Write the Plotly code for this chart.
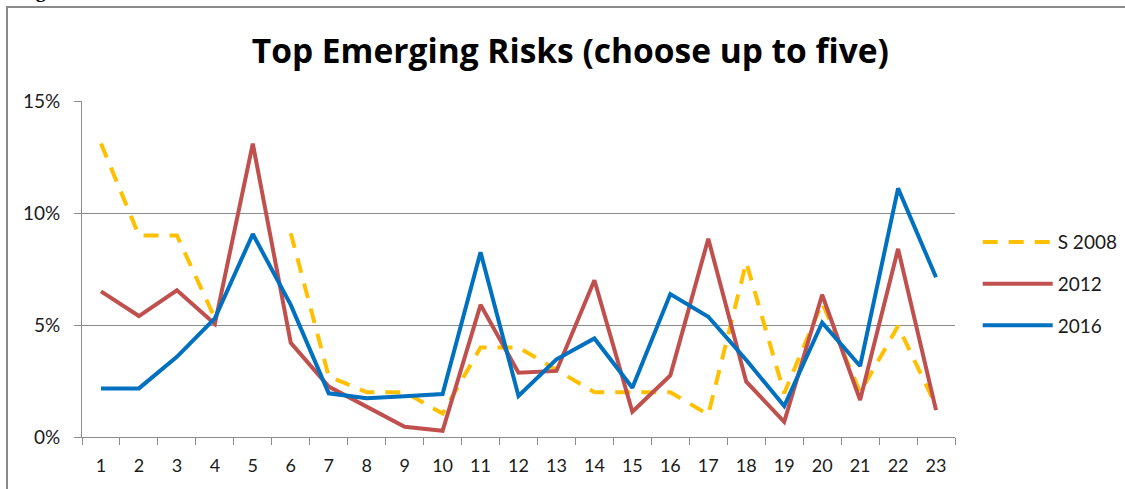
import plotly.graph_objects as go

categories = [str(i) for i in range(1, 24)]
s2008 = [13.1, 9.0, 9.0, 5.3, None, 9.1, 2.7, 2.0, 2.0, 1.05, 4.0, 4.0, 3.0, 2.0, 2.0, 2.0, 1.0, 7.8, 1.95, 6.0, 2.0, 4.95, 1.4]
y2012 = [6.5, 5.4, 6.55, 5.05, 13.1, 4.2, 2.25, 1.35, 0.46, 0.28, 5.9, 2.87, 2.95, 7.0, 1.13, 2.75, 8.85, 2.47, 0.68, 6.35, 1.65, 8.4, 1.2]
y2016 = [2.17, 2.17, 3.58, 5.3, 9.06, 5.9, 1.95, 1.73, 1.82, 1.92, 8.25, 1.83, 3.47, 4.4, 2.2, 6.38, 5.37, 3.44, 1.38, 5.1, 3.17, 11.1, 7.13]
series_names = ["S 2008", "2012", "2016"]
y_tickvals = [0, 5, 10, 15]
y_ticktext = ["0%", "5%", "10%", "15%"]
title_text = "Top Emerging Risks (choose up to five)"

FONT = "Lato, 'Open Sans', sans-serif"
TITLE_FONT = "'Open Sans', Lato, sans-serif"
GRID = "#8c8c8c"
TXT = "#1a1a1a"

fig = go.Figure()
fig.add_trace(go.Scatter(x=categories, y=s2008, name=series_names[0], mode="lines",
                         line=dict(color="#FFC000", width=4, dash="15px,11px"),
                         connectgaps=False, legendgroup="a"))
fig.add_trace(go.Scatter(x=categories, y=y2012, name=series_names[1], mode="lines",
                         line=dict(color="#C0504D", width=4), legendgroup="b"))
fig.add_trace(go.Scatter(x=categories, y=y2016, name=series_names[2], mode="lines",
                         line=dict(color="#0070C0", width=4), legendgroup="c"))

fig.update_layout(
    width=1125, height=489,
    margin=dict(l=82, r=170, t=101, b=52, autoexpand=False),
    paper_bgcolor="white", plot_bgcolor="white",
    font=dict(family=FONT, size=18, color=TXT),
    title=dict(text=title_text, x=0.507, xanchor="center", y=0.895, yanchor="middle",
               font=dict(family=TITLE_FONT, size=33.5, color="#000000", weight="bold")),
    showlegend=True,
    legend=dict(x=1.026, xanchor="left", y=0.455, yanchor="middle",
                font=dict(family=FONT, size=19, color=TXT),
                tracegroupgap=14, traceorder="grouped", itemwidth=70,
                bgcolor="rgba(0,0,0,0)"),
    xaxis=dict(type="category", range=[-0.5, 22.5], showgrid=False,
               showline=True, linecolor=GRID, linewidth=1,
               ticks="outside", ticklen=7, tickcolor=GRID, tickson="boundaries",
               ticklabelstandoff=12, tickfont=dict(family=FONT, size=18, color=TXT),
               zeroline=False),
    yaxis=dict(range=[0, 15], tickmode="array", tickvals=y_tickvals, ticktext=y_ticktext,
               showgrid=True, gridcolor=GRID, gridwidth=1,
               showline=True, linecolor=GRID, linewidth=1,
               ticks="outside", ticklen=7, tickcolor=GRID,
               ticklabelstandoff=10, tickfont=dict(family=FONT, size=19, color=TXT),
               zeroline=False),
)

# outer frame of the chart
fig.add_shape(type="rect", xref="paper", yref="paper",
              x0=(7 - 82) / 873, x1=(1140 - 82) / 873,
              y0=(437 - 500) / 336, y1=(437 - 7) / 336,
              line=dict(color="#8a8a8a", width=2), fillcolor="rgba(0,0,0,0)", layer="below")

# caption cut off at the top of the picture
fig.add_annotation(text="<b>Figure</b>", xref="paper", yref="paper",
                   x=(16 - 82) / 873, xanchor="left", y=(437 - 4) / 336, yanchor="bottom",
                   showarrow=False, font=dict(family="Liberation Serif, serif", size=20, color="#000"))

fig.write_html("out.html", config={"displayModeBar": False},
               post_script="document.body.style.margin='0';document.body.style.padding='0';")
